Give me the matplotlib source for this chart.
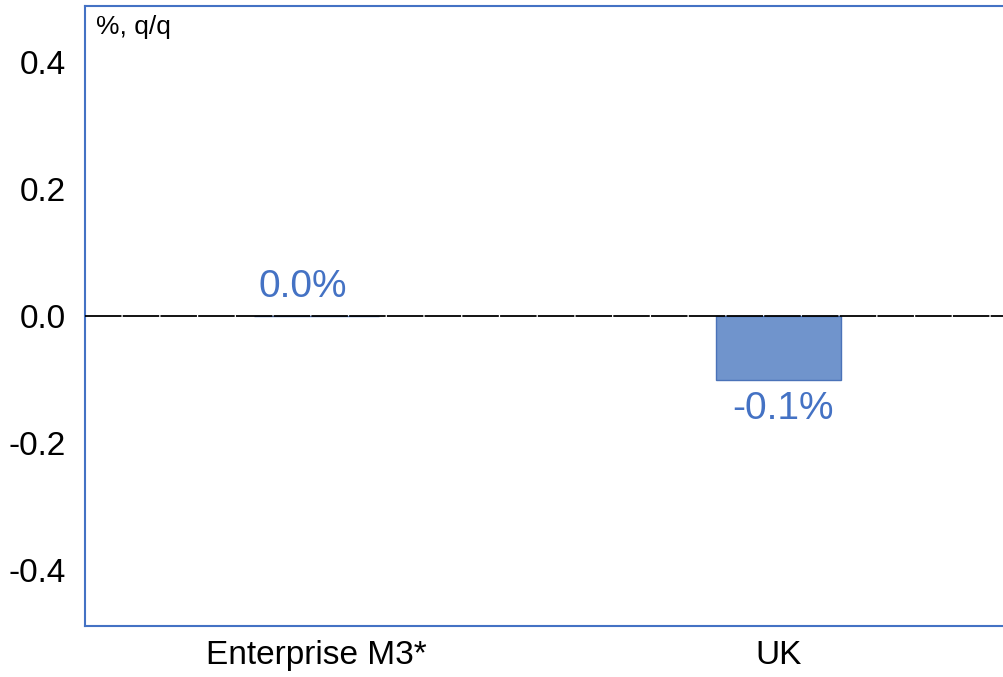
import matplotlib.pyplot as plt
from matplotlib import font_manager

categories = ["Enterprise M3*", "UK"]
values = [0.0, -0.1]
value_labels = ["0.0%", "-0.1%"]
y_ticks = [-0.4, -0.2, 0.0, 0.2, 0.4]

names = {f.name for f in font_manager.fontManager.ttflist}
family = "Liberation Sans Narrow" if "Liberation Sans Narrow" in names else "Liberation Sans"
plt.rcParams['font.family'] = [family, 'DejaVu Sans']

blue = "#4472C4"
fig = plt.figure(figsize=(10.04, 6.77), dpi=100)
ax = fig.add_axes([85 / 1004, 51 / 677, 925 / 1004, 620 / 677])

x = list(range(len(categories)))
ax.bar(x, values, width=0.27, color="#7094CC", edgecolor="#4A72B8", linewidth=1, zorder=2)
ax.axhline(0, color="black", linewidth=1.3, linestyle=(0, (20.2, 0.7)), zorder=3)

for xi, v, lab in zip(x, values, value_labels):
    if v >= 0:
        ax.text(xi - 0.03, v + 0.018, lab, ha="center", va="bottom", color=blue, fontsize=28)
    else:
        ax.text(xi + 0.01, v - 0.018, lab, ha="center", va="top", color=blue, fontsize=28)

ax.set_xlim(-0.5, 1.5)
ax.set_ylim(-0.488, 0.488)
ax.set_xticks(x)
ax.set_xticklabels(categories, fontsize=24)
ax.set_yticks(y_ticks)
ax.set_yticklabels([f"{t:.1f}" for t in y_ticks], fontsize=24)
ax.tick_params(length=0, pad=14)
ax.tick_params(axis="x", pad=10)

for s in ax.spines.values():
    s.set_color(blue)
    s.set_linewidth(1.5)

ax.text(0.012, 0.985, "%, q/q", transform=ax.transAxes, ha="left", va="top", fontsize=19)

fig.savefig("out.png", dpi=100)
